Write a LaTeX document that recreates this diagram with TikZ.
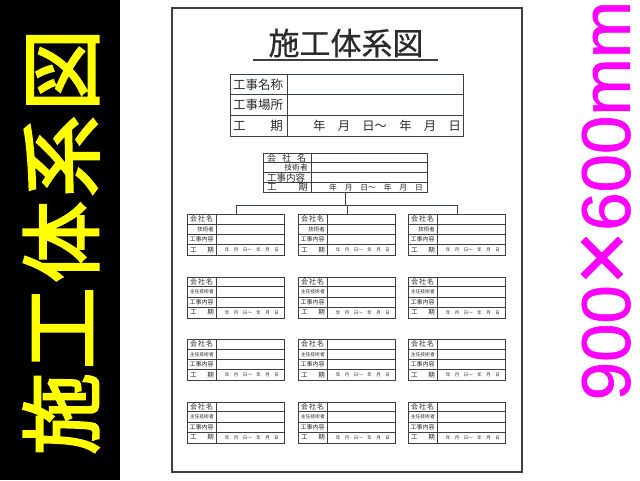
\documentclass[tikz,border=0pt]{standalone}
\usepackage{fontspec}
\newfontfamily\jp{Noto Sans CJK JP}
\newfontfamily\jpt{Noto Sans CJK JP}[FakeBold=0.6]
\newfontfamily\jpb{Noto Sans CJK JP}[FakeBold=2.5]
\newfontfamily\lat{Liberation Sans}[FakeBold=0.8]
\definecolor{linec}{HTML}{3A423E}
\definecolor{txtc}{HTML}{2A2A2A}
\definecolor{signyellow}{HTML}{FFFF00}
\definecolor{signmag}{HTML}{FF00FF}
\tikzset{
  rule/.style={draw=linec, line width=0.8pt},
  thinrule/.style={draw=linec, line width=0.6pt},
  lab/.style={inner sep=0pt, text=txtc},
}
\newcommand{\fs}[1]{\fontsize{#1}{#1}\selectfont}
\begin{document}
\begin{tikzpicture}[x=1pt,y=-1pt]
\useasboundingbox (0,0) rectangle (640,480);
\fill[white] (0,0) rectangle (640,480);
% left band
\fill[black] (0,0) rectangle (120,480);
\node[rotate=90, inner sep=0pt, text=signyellow, font=\jpb\fs{82}] (lefttitle) at (61,242)
  {施\hspace{4pt}工\hspace{4pt}体\hspace{4pt}系\hspace{4pt}図};
% right size text
\node[rotate=90, inner sep=0pt, text=signmag, font=\lat\fs{69}] (size) at (607,200.5)
  {900\raisebox{-3pt}{\scalebox{1.35}{×}}600mm};
% panel
\node[draw=linec, line width=1.4pt, minimum width=350pt, minimum height=464pt, inner sep=0pt] (panel) at (347,240) {};
% title
\node[lab, font=\jpt\fs{31}] (title) at (346,43) {施工体系図};
\coordinate (ulA) at (253,60);
\coordinate (ulB) at (438,60);
\draw[draw=linec, line width=1.2pt] (ulA) -- (ulB);
% top table
\node[rule, minimum width=233pt, minimum height=62pt, inner sep=0pt] (toptab) at (346.5,105) {};
\draw[rule] (230,94.7) -- (463,94.7) (230,115.3) -- (463,115.3) (287,74) -- (287,136);
\node[lab, anchor=west, font=\jp\fs{12.5}] (t1) at (233,84.4) {工事名称};
\node[lab, anchor=west, font=\jp\fs{12.5}] (t2) at (233,105) {工事場所};
\node[lab, anchor=west, font=\jp\fs{12.5}] (t3a) at (233,125.7) {工};
\node[lab, anchor=east, font=\jp\fs{12.5}] (t3b) at (283,125.7) {期};
\node[lab, anchor=east, font=\jp\fs{12.3}] (t3c) at (461,125.7) {年　月　日～　年　月　日};
% main company box
\node[rule, minimum width=164pt, minimum height=39pt, inner sep=0pt] (main) at (345,172.5) {};
\draw[thinrule] (263,162.75) -- (427,162.75) (263,172.5) -- (427,172.5) (263,182.25) -- (427,182.25) (311,153) -- (311,192);
\node[lab, anchor=west, font=\jp\fs{9}] (m1) at (267,157.9) {会\hspace{6pt}社\hspace{6pt}名};
\node[lab, anchor=east, font=\jp\fs{7.8}] (m2) at (308,167.6) {技術者};
\node[lab, anchor=west, font=\jp\fs{9.5}] (m3) at (267,177.4) {工事内容};
\node[lab, anchor=west, font=\jp\fs{9.5}] (m4a) at (267,187.1) {工};
\node[lab, anchor=east, font=\jp\fs{9.5}] (m4b) at (308,187.1) {期};
\node[lab, anchor=east, font=\jp\fs{7.8}] (m4c) at (423,187.1) {年　月　日～　年　月　日};
% sub boxes
\foreach \c/\xl in {1/187,2/298,3/408}{
  \foreach \r/\yt in {1/214,2/276.5,3/339,4/401.5}{
    \node[rule, minimum width=97pt, minimum height=41pt, inner sep=0pt, anchor=north west] (b\c\r) at (\xl,\yt) {};
    \draw[thinrule] (\xl,\yt+10.25) -- (\xl+97,\yt+10.25)
                    (\xl,\yt+20.5) -- (\xl+97,\yt+20.5)
                    (\xl,\yt+30.75) -- (\xl+97,\yt+30.75)
                    (\xl+29,\yt) -- (\xl+29,\yt+41);
    \node[lab, anchor=west, font=\jp\fs{7}] (l1\c\r) at (\xl+3,\yt+5.2) {会\hspace{1pt}社\hspace{1pt}名};
    \ifnum\r=1
      \node[lab, anchor=east, font=\jp\fs{5.5}] (l2\c\r) at (\xl+27,\yt+15.4) {技術者};
    \else
      \node[lab, anchor=east, font=\jp\fs{4.8}] (l2\c\r) at (\xl+27,\yt+15.4) {主任技術者};
    \fi
    \node[lab, anchor=west, font=\jp\fs{6}] (l3\c\r) at (\xl+2.5,\yt+25.7) {工事内容};
    \node[lab, anchor=west, font=\jp\fs{6.5}] (l4a\c\r) at (\xl+3,\yt+35.9) {工};
    \node[lab, anchor=east, font=\jp\fs{6.5}] (l4b\c\r) at (\xl+27,\yt+35.9) {期};
    \node[lab, anchor=east, font=\jp\fs{4.5}] (l4c\c\r) at (\xl+92,\yt+35.9) {年　月　日～　年　月　日};
  }
}
% connectors
\coordinate (bus) at (345,205);
\draw[rule] (main.south) -- (bus);
\draw[rule] (b11.north) -- (b11.north |- bus) -- (b31.north |- bus) -- (b31.north);
\draw[rule] (b21.north) -- (b21.north |- bus);
\end{tikzpicture}
\end{document}
